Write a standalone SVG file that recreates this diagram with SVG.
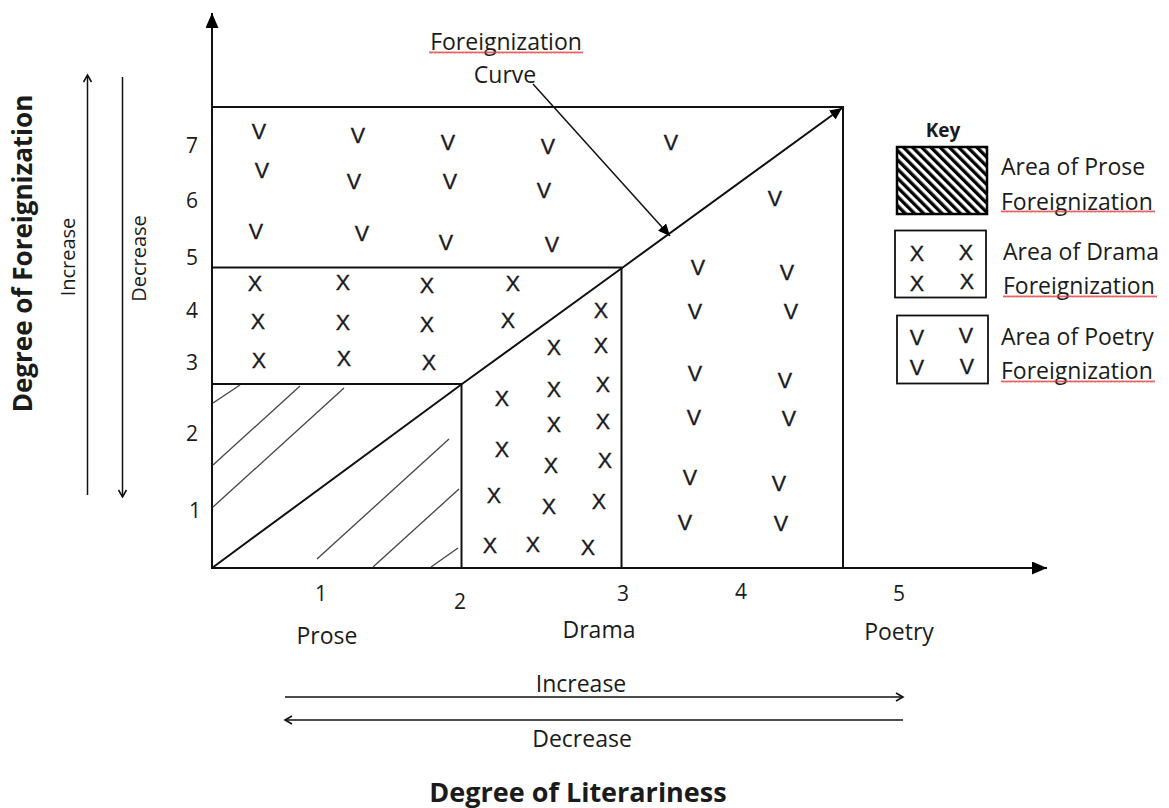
<svg xmlns="http://www.w3.org/2000/svg" width="1169" height="808" viewBox="0 0 1169 808">
<style>
  text { font-family: "Open Sans", "Liberation Sans", sans-serif; fill: #1b1b1b; }
  .lbl { font-size: 23px; }
  .num { font-size: 21px; text-anchor: middle; }
  .mk { font-family: "Liberation Sans", "Open Sans", sans-serif; font-size: 21.5px; text-anchor: middle; fill: #1a1a22; stroke: #1a1a22; stroke-width: 0.35; }
  .bold { font-weight: bold; }
  .mid { text-anchor: middle; }
  .ln { stroke: #111; stroke-width: 2; fill: none; }
  .thin { stroke: #111; stroke-width: 1.5; fill: none; }
  .hatch { stroke: #444; stroke-width: 1.3; fill: none; }
</style>
<defs>
  <marker id="ah" markerUnits="userSpaceOnUse" markerWidth="16" markerHeight="13" refX="15" refY="6.5" orient="auto">
    <path d="M0,0 L15,6.5 L0,13 Z" fill="#000"/>
  </marker>
  <marker id="ahs" markerUnits="userSpaceOnUse" markerWidth="13" markerHeight="11" refX="12" refY="5.5" orient="auto">
    <path d="M0,0 L12,5.5 L0,11 Z" fill="#000"/>
  </marker>
  <marker id="oa" markerUnits="userSpaceOnUse" markerWidth="10" markerHeight="10" refX="8" refY="5" orient="auto">
    <path d="M1,1 L8,5 L1,9" fill="none" stroke="#111" stroke-width="1.6"/>
  </marker>
  <pattern id="stripes" width="6.5" height="10" patternUnits="userSpaceOnUse" patternTransform="rotate(-45)">
    <rect x="0" y="0" width="3.3" height="10" fill="#000"/>
  </pattern>
  <pattern id="squig" width="4" height="3" patternUnits="userSpaceOnUse">
    <path d="M0,2.5 L1,0.5 L2,2.5 L3,0.5 L4,2.5" fill="none" stroke="#e23a3a" stroke-width="0.8"/>
  </pattern>
</defs>

<rect width="1169" height="808" fill="#fff"/>

<!-- Axes -->
<g id="axes">
  <line class="ln" x1="212" y1="569" x2="212" y2="13" marker-end="url(#ah)"/>
  <line class="ln" x1="211" y1="568" x2="1047" y2="568" marker-end="url(#ah)"/>
</g>

<!-- Regions -->
<g id="region-outline">
  <line class="ln" x1="212" y1="107" x2="844" y2="107"/>
  <line class="ln" x1="843" y1="106" x2="843" y2="568"/>
  <line class="ln" x1="212" y1="267.5" x2="622" y2="267.5"/>
  <line class="ln" x1="621.5" y1="267" x2="621.5" y2="568"/>
  <line class="ln" x1="212" y1="384" x2="462" y2="384"/>
  <line class="ln" x1="461.5" y1="384" x2="461.5" y2="568"/>
</g>

<g id="prose-area">
  <line class="hatch" x1="213" y1="403" x2="240" y2="385"/>
  <line class="hatch" x1="213" y1="465" x2="300" y2="386"/>
  <line class="hatch" x1="213" y1="507" x2="344" y2="388"/>
  <line class="hatch" x1="317" y1="559" x2="449" y2="439"/>
  <line class="hatch" x1="373" y1="567" x2="459" y2="489"/>
  <line class="hatch" x1="431" y1="567" x2="458" y2="548"/>
</g>

<g id="poetry-area">
  <text class="mk" x="259" y="138.5">V</text>
  <text class="mk" x="358" y="142.5">V</text>
  <text class="mk" x="448" y="149.5">V</text>
  <text class="mk" x="548" y="153.5">V</text>
  <text class="mk" x="671" y="149.5">V</text>
  <text class="mk" x="262" y="177.5">V</text>
  <text class="mk" x="354" y="188.5">V</text>
  <text class="mk" x="450" y="188.5">V</text>
  <text class="mk" x="544" y="197.5">V</text>
  <text class="mk" x="256" y="238.5">V</text>
  <text class="mk" x="362" y="240.5">V</text>
  <text class="mk" x="446" y="249.5">V</text>
  <text class="mk" x="552" y="251.5">V</text>
  <text class="mk" x="775" y="205.5">V</text>
  <text class="mk" x="698" y="274.5">V</text>
  <text class="mk" x="787" y="279.5">V</text>
  <text class="mk" x="695" y="318.5">V</text>
  <text class="mk" x="791" y="318.5">V</text>
  <text class="mk" x="695" y="380.5">V</text>
  <text class="mk" x="785" y="387.5">V</text>
  <text class="mk" x="694" y="424.5">V</text>
  <text class="mk" x="789" y="425.5">V</text>
  <text class="mk" x="690" y="484.5">V</text>
  <text class="mk" x="779" y="490.5">V</text>
  <text class="mk" x="685" y="529.5">V</text>
  <text class="mk" x="781" y="530.5">V</text>
</g>

<g id="drama-area">
  <text class="mk" x="255" y="290.5">X</text>
  <text class="mk" x="343" y="289.5">X</text>
  <text class="mk" x="427" y="292.5">X</text>
  <text class="mk" x="513" y="290.5">X</text>
  <text class="mk" x="258" y="328.5">X</text>
  <text class="mk" x="343" y="329.5">X</text>
  <text class="mk" x="427" y="331.5">X</text>
  <text class="mk" x="508" y="327.5">X</text>
  <text class="mk" x="259" y="367.5">X</text>
  <text class="mk" x="344" y="365.5">X</text>
  <text class="mk" x="429" y="369.5">X</text>
  <text class="mk" x="601" y="317.5">X</text>
  <text class="mk" x="554" y="354.5">X</text>
  <text class="mk" x="601" y="352.5">X</text>
  <text class="mk" x="502" y="405.5">X</text>
  <text class="mk" x="554" y="396.5">X</text>
  <text class="mk" x="603" y="391.5">X</text>
  <text class="mk" x="554" y="431.5">X</text>
  <text class="mk" x="603" y="428.5">X</text>
  <text class="mk" x="502" y="456.5">X</text>
  <text class="mk" x="551" y="472.5">X</text>
  <text class="mk" x="605" y="467.5">X</text>
  <text class="mk" x="494" y="502.5">X</text>
  <text class="mk" x="549" y="513.5">X</text>
  <text class="mk" x="599" y="508.5">X</text>
  <text class="mk" x="490" y="552.5">X</text>
  <text class="mk" x="533" y="551.5">X</text>
  <text class="mk" x="588" y="554.5">X</text>
</g>

<!-- Connectors -->
<g id="connectors">
  <polyline class="ln" points="212,568 462,384 622,268 842,108" stroke-width="1.8" marker-end="url(#ahs)"/>
  <line class="thin" x1="533" y1="84" x2="670" y2="236" marker-end="url(#ahs)"/>
  <line class="thin" x1="87.5" y1="495" x2="87.5" y2="75" marker-end="url(#oa)"/>
  <line class="thin" x1="122.5" y1="77" x2="122.5" y2="497" marker-end="url(#oa)"/>
  <line class="thin" x1="285" y1="697" x2="903" y2="697" marker-end="url(#oa)"/>
  <line class="thin" x1="903" y1="720" x2="285" y2="720" marker-end="url(#oa)"/>
</g>

<!-- Curve label -->
<g id="curve-label">
  <text class="lbl mid" x="506" y="50">Foreignization</text>
  <g transform="translate(429,51)"><rect width="154" height="3" fill="url(#squig)"/></g>
  <text class="lbl mid" x="505" y="83">Curve</text>
</g>

<!-- Y axis labels -->
<g id="y-labels">
  <text class="num" x="192" y="153">7</text>
  <text class="num" x="192" y="208">6</text>
  <text class="num" x="192" y="265">5</text>
  <text class="num" x="192" y="318">4</text>
  <text class="num" x="192" y="370">3</text>
  <text class="num" x="192" y="441">2</text>
  <text class="num" x="195" y="518">1</text>
  <text class="bold mid" font-size="26" transform="translate(32,253.5) rotate(-90)">Degree of Foreignization</text>
  <text class="mid" font-size="20" transform="translate(75,257) rotate(-90)">Increase</text>
  <text class="mid" font-size="20" transform="translate(146,258.5) rotate(-90)">Decrease</text>
</g>

<!-- X axis labels -->
<g id="x-labels">
  <text class="num" x="321" y="601">1</text>
  <text class="num" x="460" y="609">2</text>
  <text class="num" x="623" y="601">3</text>
  <text class="num" x="741" y="599">4</text>
  <text class="num" x="899" y="601">5</text>
  <text class="lbl mid" x="327" y="644">Prose</text>
  <text class="lbl mid" x="599" y="638">Drama</text>
  <text class="lbl mid" x="899" y="640">Poetry</text>
  <text class="lbl mid" x="581" y="692">Increase</text>
  <text class="lbl mid" x="582" y="747">Decrease</text>
  <text class="bold mid" font-size="27" x="578" y="802">Degree of Literariness</text>
</g>

<!-- Key -->
<g id="key">
  <text class="bold mid" font-size="19" x="943" y="137">Key</text>
  <g id="key-prose">
    <rect x="897" y="147" width="90" height="67" fill="url(#stripes)" stroke="#000" stroke-width="2.5"/>
    <text class="lbl" x="1001" y="175">Area of Prose</text>
    <text class="lbl" x="1001" y="210">Foreignization</text>
    <g transform="translate(1001,210)"><rect width="154" height="3" fill="url(#squig)"/></g>
  </g>
  <g id="key-drama">
    <rect x="895" y="230.5" width="91" height="67" fill="none" stroke="#111" stroke-width="1.8"/>
    <text class="mk" x="917" y="260.5">X</text>
    <text class="mk" x="966" y="260">X</text>
    <text class="mk" x="917" y="290.5">X</text>
    <text class="mk" x="967" y="289">X</text>
    <text class="lbl" x="1003" y="260">Area of Drama</text>
    <text class="lbl" x="1003" y="294">Foreignization</text>
    <g transform="translate(1003,295)"><rect width="154" height="3" fill="url(#squig)"/></g>
  </g>
  <g id="key-poetry">
    <rect x="897" y="315.5" width="91" height="68" fill="none" stroke="#111" stroke-width="1.8"/>
    <text class="mk" x="917" y="344.5">V</text>
    <text class="mk" x="966" y="342.5">V</text>
    <text class="mk" x="917" y="374.5">V</text>
    <text class="mk" x="967" y="374">V</text>
    <text class="lbl" x="1001" y="345">Area of Poetry</text>
    <text class="lbl" x="1001" y="379">Foreignization</text>
    <g transform="translate(1001,380)"><rect width="154" height="3" fill="url(#squig)"/></g>
  </g>
</g>
</svg>
